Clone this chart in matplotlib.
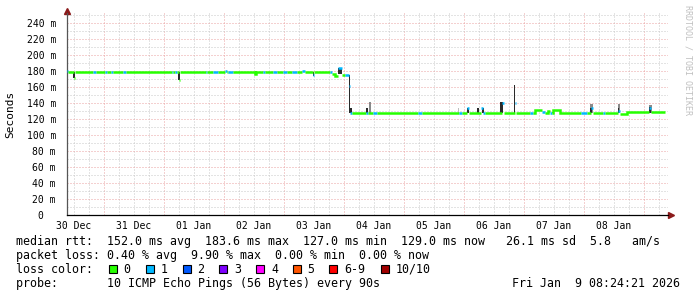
import numpy as np
import matplotlib
matplotlib.use('Agg')
import matplotlib.pyplot as plt
from matplotlib.patches import Rectangle

plt.rcParams['font.family'] = 'DejaVu Sans Mono'

# time axis: hours since 30 Dec 00:00
t_start = 9.2
t_end = 248.4

# median rtt, step segments (start hour, ms, lost pings out of 10)
seg_t = [9.2, 9.6, 12.0, 12.4, 19.6, 20.8, 24.4, 25.2, 26.8, 27.6,
         31.6, 32.8, 51.2, 51.6, 52.4, 53.2, 54.0, 54.4, 64.8, 65.2,
         67.6, 69.6, 72.4, 73.2, 73.6, 75.6, 84.4, 84.8, 87.6, 88.4,
         91.6, 93.2, 95.6, 97.2, 99.2, 101.2, 103.2, 104.4, 107.6, 108.0,
         114.4, 115.2, 116.4, 117.6, 119.2, 120.4, 122.0, 122.4, 123.2, 128.8,
         129.6, 131.6, 133.2, 149.6, 151.2, 166.0, 167.2, 169.2, 170.0, 174.8,
         175.6, 176.4, 183.2, 184.0, 188.4, 188.8, 194.4, 195.6, 196.4, 199.2,
         200.4, 201.6, 202.4, 203.2, 203.6, 206.4, 214.8, 217.2, 218.8, 219.6,
         223.6, 224.4, 229.6, 230.4, 233.2, 242.0, 242.8]
seg_ms = [179.5, 178, 171, 178, 178, 178, 178, 178, 178, 178,
          178, 178, 178, 178, 178, 178, 169, 178, 178, 178,
          178, 178, 179.5, 178, 178, 178, 176, 178, 178, 178,
          178, 178, 178, 178, 178, 178, 179.5, 178, 175, 178,
          178, 176, 174, 183.5, 175, 175, 161, 127, 127, 127,
          127, 127, 127, 127, 127, 127, 127, 134, 127, 133,
          127, 127, 140, 127, 140, 127, 127, 127, 130.5, 128.5,
          127, 130, 127, 127, 130.5, 127, 127, 127, 133, 127,
          127, 127, 130, 126, 128.5, 134, 128.5]
seg_loss = [1, 0, 0, 0, 1, 0, 1, 0, 1, 0,
            1, 0, 1, 0, 1, 0, 0, 0, 1, 0,
            1, 0, 1, 0, 1, 0, 0, 0, 1, 0,
            1, 0, 1, 0, 1, 0, 1, 0, 1, 0,
            1, 0, 0, 1, 0, 1, 1, 1, 0, 1,
            0, 1, 0, 1, 0, 1, 0, 1, 0, 1,
            1, 0, 1, 0, 1, 0, 1, 0, 0, 1,
            0, 0, 1, 0, 0, 0, 1, 0, 1, 0,
            1, 0, 1, 0, 0, 1, 0]

# smoke (spread of the 10 pings)
smoke_t0 = [11.6, 53.6, 84.4, 107.6, 117.6, 122.0, 122.4, 128.8, 130.0, 165.6,
            169.2, 173.2, 175.2, 182.4, 188.0, 218.4, 218.4, 229.6, 229.6, 242.0, 242.0]
smoke_t1 = [12.4, 54.4, 84.8, 108.0, 119.2, 122.4, 123.2, 129.6, 130.8, 166.0,
            170.0, 174.0, 176.0, 183.6, 188.4, 219.6, 219.2, 230.4, 230.0, 243.2, 242.8]
smoke_lo = [171, 169, 176, 173, 176, 127, 127, 127, 127, 127,
            127, 127, 127, 127, 127, 127, 127, 127, 127, 127, 127]
smoke_hi = [178, 178, 178, 178, 184, 175, 133, 134, 141, 134,
            134, 133, 134, 141, 162, 139, 133, 139, 133, 137, 135]
smoke_kind = ['dense', 'dense', 'dense', 'dense', 'dense', 'dense', 'dense', 'dense', 'sparse', 'light',
              'dense', 'dense', 'dense', 'dense', 'dense', 'sparse', 'dense', 'sparse', 'dense', 'sparse', 'dense']

day_labels = ['30 Dec', '31 Dec', '01 Jan', '02 Jan', '03 Jan',
              '04 Jan', '05 Jan', '06 Jan', '07 Jan', '08 Jan']
y_ticks = [0, 20, 40, 60, 80, 100, 120, 140, 160, 180, 200, 220, 240]

loss_names = ['0', '1', '2', '3', '4', '5', '6-9', '10/10']
loss_colors = ['#26ff00', '#00b8ff', '#0059ff', '#7e00ff', '#ff00ff', '#ff5500', '#ff0000', '#a10000']
smoke_colors = {'dense': '#2a2a2a', 'sparse': '#8a8a8a', 'light': '#bdbdbd'}

W, H = 697, 297
fig = plt.figure(figsize=(W / 100, H / 100), dpi=100)
fig.patch.set_facecolor('white')

ax = fig.add_axes([67 / W, 82 / H, 601 / W, 202 / H])
ax.set_xlim(t_start, t_start + 601 / 2.5)
ax.set_ylim(0, 202 / 0.801)

# grid like rrdtool
for h in range(12, 250, 6):
    if h % 24:
        ax.axvline(h, color='#c8c8c8', lw=0.72, ls=(0, (1, 2)), zorder=0)
for h in range(24, 250, 24):
    ax.axvline(h, color='#eaa3a3', lw=0.72, ls=(0, (1, 2)), zorder=0)
for v in range(10, 251, 20):
    ax.axhline(v, color='#c8c8c8', lw=0.72, ls=(0, (1, 2)), zorder=0)
for v in range(20, 241, 20):
    ax.axhline(v, color='#eaa3a3', lw=0.72, ls=(0, (1, 2)), zorder=0)

# smoke
for i in range(len(smoke_t0)):
    ax.bar(smoke_t0[i], smoke_hi[i] - smoke_lo[i], width=smoke_t1[i] - smoke_t0[i],
           bottom=smoke_lo[i], align='edge', color=smoke_colors[smoke_kind[i]],
           linewidth=0, zorder=2)

# median line, one run per loss colour
ends = seg_t[1:] + [t_end]
runs = []
cur = None
for i in range(len(seg_t)):
    if cur is not None and seg_loss[i] == cur['loss'] and abs(seg_ms[i] - seg_ms[i - 1]) < 5:
        cur['x'] += [seg_t[i], ends[i]]
        cur['y'] += [seg_ms[i], seg_ms[i]]
    else:
        cur = {'loss': seg_loss[i], 'x': [seg_t[i], ends[i]], 'y': [seg_ms[i], seg_ms[i]]}
        runs.append(cur)
for r in runs:
    ax.plot(r['x'], r['y'], color=loss_colors[r['loss']], lw=1.8,
            solid_capstyle='butt', solid_joinstyle='miter', zorder=3)

for s in ['top', 'right']:
    ax.spines[s].set_visible(False)
ax.spines['bottom'].set_color('black')
ax.spines['left'].set_color('#555555')
ax.spines['bottom'].set_linewidth(0.9)
ax.spines['left'].set_linewidth(0.9)
ax.plot([1.0058], [0], marker='>', ms=4, color='#8b1a1a', transform=ax.transAxes, clip_on=False)
ax.plot([0], [1.012], marker='^', ms=4, color='#8b1a1a', transform=ax.transAxes, clip_on=False)

ax.set_xticks([12 + 24 * i for i in range(len(day_labels))])
ax.set_xticklabels(day_labels)
ax.set_yticks(y_ticks)
ax.set_yticklabels([('%d m' % v) if v else '0  ' for v in y_ticks])
ax.tick_params(axis='both', length=0, labelsize=7, colors='black')
ax.tick_params(axis='y', pad=8)
ax.tick_params(axis='x', pad=4)

fig.text(10.5 / W, 1 - 114 / H, 'Seconds', rotation=90, ha='center', va='center', fontsize=8)
fig.text(688 / W, 1 - 60 / H, 'RRDTOOL / TOBI OETIKER', rotation=270, ha='center', va='center',
         fontsize=6, color='#c0c0c0')

# legend block
fs = 8.4
row1 = 'median rtt:  152.0 ms avg  183.6 ms max  127.0 ms min  129.0 ms now   26.1 ms sd  5.8   am/s'
row2 = 'packet loss: 0.40 % avg  9.90 % max  0.00 % min  0.00 % now'
fig.text(16.5 / W, 1 - 241.7 / H, row1, ha='left', va='center', fontsize=fs)
fig.text(16.5 / W, 1 - 255.5 / H, row2, ha='left', va='center', fontsize=fs)
fig.text(16.5 / W, 1 - 269.3 / H, 'loss color:', ha='left', va='center', fontsize=fs)
box_x = [108.5, 145.5, 182.5, 219, 256, 292.5, 329, 381]
for i in range(len(loss_names)):
    fig.patches.append(Rectangle((box_x[i] / W, 1 - 273.3 / H), 8 / W, 8 / H, transform=fig.transFigure,
                                 facecolor=loss_colors[i], edgecolor='black', lw=0.8))
    fig.text((box_x[i] + 15) / W, 1 - 269.3 / H, loss_names[i], ha='left', va='center', fontsize=fs)
fig.text(16.5 / W, 1 - 283.3 / H, 'probe:       10 ICMP Echo Pings (56 Bytes) every 90s',
         ha='left', va='center', fontsize=fs)
fig.text(680 / W, 1 - 283.3 / H, 'Fri Jan  9 08:24:21 2026', ha='right', va='center', fontsize=fs)

fig.savefig('out.png', dpi=100)
